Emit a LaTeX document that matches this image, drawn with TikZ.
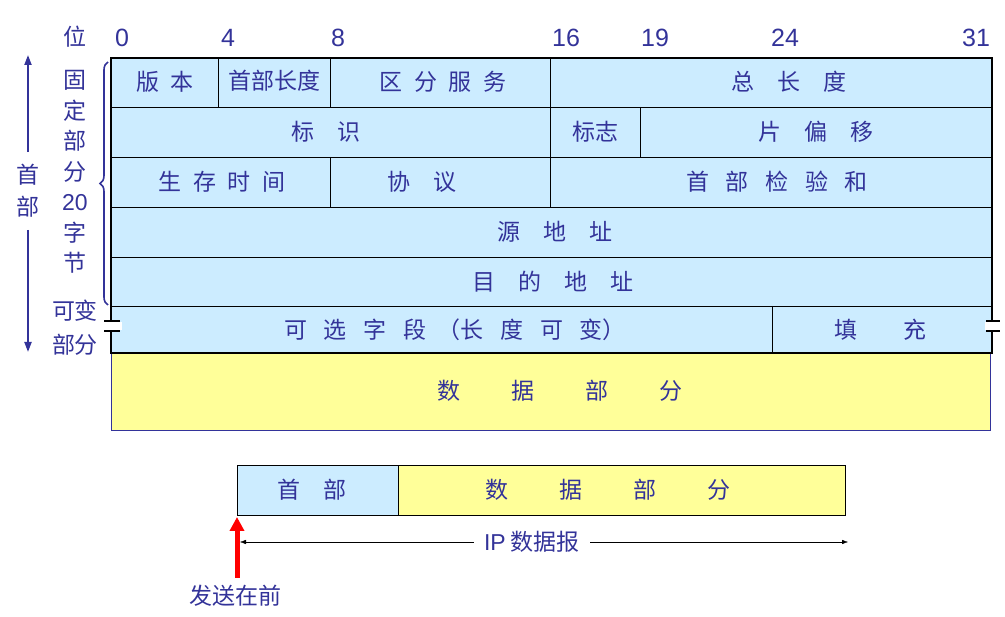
\documentclass[tikz,border=0pt]{standalone}
\usepackage{fontspec}
\setmainfont{Noto Sans CJK SC}
\setsansfont{Liberation Sans}
\usetikzlibrary{decorations.pathreplacing,arrows.meta}
\definecolor{tb}{HTML}{333399}
\definecolor{lb}{HTML}{CCECFF}
\definecolor{ly}{HTML}{FFFF99}
\begin{document}
\begin{tikzpicture}[x=1pt,y=-1pt,
  lab/.style={text=tb,font=\fontsize{23}{26}\selectfont,inner sep=0pt},
  num/.style={text=tb,font=\fontsize{25}{28}\selectfont\sffamily,inner sep=0pt},
  cell/.style={draw=black,line width=0.8pt}]
\useasboundingbox (0,0) rectangle (1005,617);
% fills
\fill[lb] (111,58) rectangle (992,353);
\fill[ly] (111,353) rectangle (990,430);
\draw[tb,line width=0.8pt] (111,353) rectangle (990,430);
% grid
\foreach \y in {107,157,207,257,306} \draw[cell] (111,\y) -- (992,\y);
\draw[cell] (218,58) -- (218,107);
\draw[cell] (330,58) -- (330,107);
\draw[cell] (550,58) -- (550,207);
\draw[cell] (640,107) -- (640,157);
\draw[cell] (330,157) -- (330,207);
\draw[cell] (772,306) -- (772,353);
\draw[line width=2.5pt] (111,58) rectangle (992,353);
% break marks
\fill[white] (100,322) rectangle (122,330);
\draw[line width=2pt] (104,321) -- (120,321) (104,331) -- (120,331);
\fill[white] (985,322) rectangle (1005,330);
\draw[line width=2pt] (986,321) -- (1000,321) (986,331) -- (1000,331);
% bit numbers
\node[lab] (wei) at (75,37) {位};
\node[num] (b0) at (122,38) {0};
\node[num] (b4) at (228,38) {4};
\node[num] (b8) at (338,38) {8};
\node[num] (b16) at (566,38) {16};
\node[num] (b19) at (655,38) {19};
\node[num] (b24) at (785,38) {24};
\node[num] (b31) at (976,38) {31};
% cell texts
\node[lab] (t1) at (165,82) {版\enspace 本};
\node[lab] (t2) at (274,81) {首部长度};
\node[lab] (t3) at (443,82) {区\enspace 分\enspace 服\enspace 务};
\node[lab] (t4) at (789,82) {总\quad 长\quad 度};
\node[lab] (t5) at (326,132) {标\quad 识};
\node[lab] (t6) at (595,132) {标志};
\node[lab] (t7) at (816,132) {片\quad 偏\quad 移};
\node[lab] (t8) at (222,182) {生\enspace 存\enspace 时\enspace 间};
\node[lab] (t9) at (422,182) {协\quad 议};
\node[lab] (t10) at (777,182) {首\enspace\ 部\enspace\ 检\enspace\ 验\enspace\ 和};
\node[lab] (t11) at (555,232) {源\quad 地\quad 址};
\node[lab] (t12) at (553,282) {目\quad 的\quad 地\quad 址};
\node[lab] (t13) at (455,330) {可\enspace\ 选\enspace\ 字\enspace\ 段\enspace （长\enspace\ 度\enspace\ 可\enspace\ 变）};
\node[lab] (t14) at (880,330) {填\qquad 充};
\node[lab] (t15) at (560,391) {数\qquad\ 据\qquad\ 部\qquad\ 分};
% left annotations
\coordinate (aT) at (28,55);
\coordinate (aB) at (28,352);
\node[lab] (sh1) at (28,175) {首};
\node[lab] (sh2) at (28,207) {部};
\draw[tb,line width=2pt,-{Triangle[length=10pt,width=7pt]}] (sh1.north) ++(0,-12) -- (aT);
\draw[tb,line width=2pt,-{Triangle[length=10pt,width=7pt]}] (sh2.south) ++(0,12) -- (aB);
\draw[tb,line width=1.6pt,decorate,decoration={brace,amplitude=8pt}] (108,305) -- (108,62);
\node[lab,align=center,font=\fontsize{23}{30.5}\selectfont] (fix) at (75,172) {固\\定\\部\\分\\\sffamily 20\\字\\节};
\node[lab] (kb1) at (75,311) {可变};
\node[lab] (kb2) at (75,345) {部分};
% bottom datagram
\draw[cell,fill=lb] (237,465) rectangle (398,515);
\draw[cell,fill=ly] (398,465) rectangle (845,515);
\node[lab] (h) at (312,490) {首\quad 部};
\node[lab] (d) at (608,490) {数\qquad\ 据\qquad\ 部\qquad\ 分};
\node[lab] (ip) at (532,542) {{\sffamily IP} 数据报};
\coordinate (il) at (240,542);
\coordinate (ir) at (848,542);
\draw[-{Latex[length=6pt]}] (ip.west) ++(-10,0) -- (il);
\draw[-{Latex[length=6pt]}] (ip.east) ++(10,0) -- (ir);
\node[lab] (fs) at (235,596) {发送在前};
\coordinate (ra) at (237,517);
\draw[red,line width=5pt,-{Triangle[length=14pt,width=14pt]}] (237,578) -- (ra);
\end{tikzpicture}
\end{document}
